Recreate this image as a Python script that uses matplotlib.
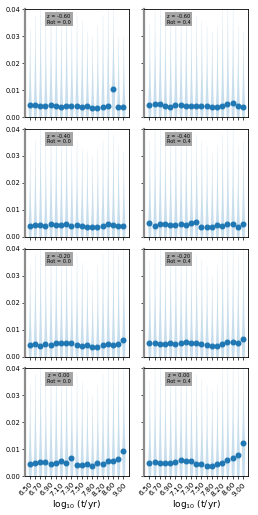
import numpy as np
import matplotlib
matplotlib.use("Agg")
import matplotlib.pyplot as plt

# ages (log10 t/yr), one point per age
ages = [6.50, 6.60, 6.70, 6.80, 6.90, 7.00, 7.10, 7.20, 7.30, 7.40,
        7.50, 7.60, 7.80, 8.00, 8.20, 8.40, 8.60, 8.80, 9.00]
age_labels = ["%.2f" % a for a in ages]

metallicities = [-0.60, -0.40, -0.20, 0.00]
rotations = [0.0, 0.4]

# median values per panel (row = metallicity, col = rotation)
med_z060_r00 = [0.0044, 0.0045, 0.0043, 0.0042, 0.0045, 0.0043, 0.0038, 0.0043, 0.0043, 0.0041,
                0.0039, 0.0040, 0.0035, 0.0034, 0.0038, 0.0042, 0.0105, 0.0036, 0.0036]
med_z060_r04 = [0.0045, 0.0050, 0.0049, 0.0043, 0.0037, 0.0046, 0.0045, 0.0042, 0.0042, 0.0042,
                0.0041, 0.0040, 0.0036, 0.0037, 0.0043, 0.0049, 0.0052, 0.0040, 0.0039]
med_z040_r00 = [0.0040, 0.0044, 0.0043, 0.0040, 0.0046, 0.0045, 0.0044, 0.0048, 0.0041, 0.0045,
                0.0041, 0.0038, 0.0036, 0.0035, 0.0042, 0.0048, 0.0045, 0.0041, 0.0041]
med_z040_r04 = [0.0050, 0.0041, 0.0049, 0.0049, 0.0043, 0.0044, 0.0048, 0.0043, 0.0052, 0.0054,
                0.0038, 0.0038, 0.0037, 0.0044, 0.0041, 0.0049, 0.0049, 0.0038, 0.0049]
med_z020_r00 = [0.0044, 0.0047, 0.0041, 0.0046, 0.0044, 0.0049, 0.0051, 0.0049, 0.0049, 0.0043,
                0.0041, 0.0042, 0.0035, 0.0035, 0.0043, 0.0048, 0.0044, 0.0047, 0.0063]
med_z020_r04 = [0.0049, 0.0049, 0.0048, 0.0045, 0.0051, 0.0048, 0.0051, 0.0055, 0.0049, 0.0052,
                0.0046, 0.0043, 0.0038, 0.0041, 0.0048, 0.0054, 0.0055, 0.0049, 0.0065]
med_z000_r00 = [0.0047, 0.0050, 0.0055, 0.0052, 0.0047, 0.0050, 0.0057, 0.0051, 0.0067, 0.0044,
                0.0043, 0.0047, 0.0038, 0.0048, 0.0046, 0.0056, 0.0057, 0.0066, 0.0095]
med_z000_r04 = [0.0049, 0.0055, 0.0049, 0.0050, 0.0050, 0.0053, 0.0061, 0.0056, 0.0058, 0.0046,
                0.0045, 0.0040, 0.0040, 0.0045, 0.0051, 0.0061, 0.0068, 0.0080, 0.0123]

# upper extent of each distribution (faint violins)
top_z060_r00 = [0.033, 0.038, 0.042, 0.036, 0.040, 0.042, 0.035, 0.042, 0.034, 0.038,
                0.036, 0.032, 0.030, 0.034, 0.038, 0.042, 0.040, 0.030, 0.030]
top_z060_r04 = [0.035, 0.040, 0.042, 0.038, 0.036, 0.042, 0.038, 0.040, 0.034, 0.038,
                0.036, 0.034, 0.032, 0.034, 0.040, 0.042, 0.040, 0.034, 0.032]
top_z040_r00 = [0.031, 0.036, 0.042, 0.034, 0.040, 0.042, 0.036, 0.042, 0.034, 0.036,
                0.033, 0.032, 0.030, 0.033, 0.036, 0.042, 0.038, 0.034, 0.032]
top_z040_r04 = [0.036, 0.042, 0.040, 0.038, 0.036, 0.042, 0.038, 0.040, 0.034, 0.038,
                0.036, 0.034, 0.031, 0.034, 0.038, 0.042, 0.040, 0.034, 0.036]
top_z020_r00 = [0.034, 0.038, 0.042, 0.036, 0.040, 0.042, 0.035, 0.042, 0.034, 0.038,
                0.035, 0.032, 0.028, 0.034, 0.038, 0.042, 0.040, 0.038, 0.040]
top_z020_r04 = [0.036, 0.040, 0.042, 0.036, 0.038, 0.042, 0.038, 0.040, 0.034, 0.038,
                0.036, 0.034, 0.030, 0.034, 0.040, 0.042, 0.040, 0.038, 0.040]
top_z000_r00 = [0.034, 0.038, 0.042, 0.036, 0.040, 0.042, 0.036, 0.042, 0.036, 0.038,
                0.035, 0.032, 0.030, 0.034, 0.038, 0.042, 0.042, 0.040, 0.042]
top_z000_r04 = [0.036, 0.040, 0.042, 0.038, 0.038, 0.042, 0.040, 0.040, 0.036, 0.038,
                0.036, 0.034, 0.032, 0.034, 0.040, 0.042, 0.042, 0.040, 0.042]

medians = [[med_z060_r00, med_z060_r04],
           [med_z040_r00, med_z040_r04],
           [med_z020_r00, med_z020_r04],
           [med_z000_r00, med_z000_r04]]
tops = [[top_z060_r00, top_z060_r04],
        [top_z040_r00, top_z040_r04],
        [top_z020_r00, top_z020_r04],
        [top_z000_r00, top_z000_r04]]

blue = "#1f77b4"

fig, axes = plt.subplots(4, 2, figsize=(2.58, 5.15), dpi=100, sharex=True, sharey=True)
fig.subplots_adjust(left=0.095, right=0.962, top=0.982, bottom=0.075,
                    hspace=0.11, wspace=0.15)

pos = np.arange(len(ages))
for r, z in enumerate(metallicities):
    for c, rot in enumerate(rotations):
        ax = axes[r, c]
        med = medians[r][c]
        top = tops[r][c]
        # faint violin-like shapes
        for i in range(len(ages)):
            m = med[i]
            y = np.linspace(0, top[i], 150)
            w = np.where(y <= m, 0.34 * (0.7 + 0.3 * y / m),
                         0.34 * np.exp(-2.6 * (y - m) / (top[i] - m)))
            ax.fill_betweenx(y, pos[i] - w, pos[i] + w, color=blue, alpha=0.24, lw=0)
        ax.plot(pos, med, "o", color=blue, ms=3.3, zorder=3)
        ax.set_xlim(-1, len(ages))
        ax.set_ylim(0, 0.04)
        ax.set_yticks([0.0, 0.01, 0.02, 0.03, 0.04])
        ax.set_xticks(pos)
        ax.set_xticklabels([lab if k % 2 == 0 else "" for k, lab in enumerate(age_labels)],
                           rotation=45, ha="right", rotation_mode="anchor")
        ax.tick_params(axis="both", labelsize=4.8, length=2, width=0.5, pad=1)
        ax.tick_params(axis="x", labelsize=5.3, pad=1.5)
        for s in ax.spines.values():
            s.set_linewidth(0.6)
        ax.spines["left"].set_color("0.55")
        ax.spines["left"].set_linewidth(1.6)
        ax.text(0.33, 0.955, "z = %.2f\nRot = %.1f" % (z, rot), transform=ax.transAxes,
                ha="center", va="top", fontsize=3.6, linespacing=1.1,
                bbox=dict(boxstyle="square,pad=0.35", facecolor="0.65", edgecolor="none"))

for ax in axes[-1]:
    ax.set_xlabel(r"log$_{10}$ (t/yr)", fontsize=6.5, labelpad=0.5)

fig.savefig("out.png", dpi=100)
